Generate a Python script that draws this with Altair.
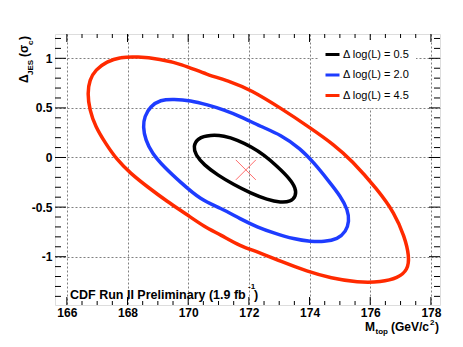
import altair as alt
import pandas as pd
import numpy as np

FONT = "Liberation Sans"

# ---- data ----
levels = ["\u0394 log(L) = 0.5", "\u0394 log(L) = 2.0", "\u0394 log(L) = 4.5"]
level_colors = ["#000000", "#1e3cff", "#ff2a00"]

black_x = [170.17, 170.30, 170.74, 171.18, 171.62, 172.06, 172.50, 172.94, 173.33, 173.55,
           173.55, 173.38, 173.05, 172.61, 172.06, 171.51, 170.96, 170.52, 170.24]
black_y = [0.110, 0.196, 0.229, 0.219, 0.178, 0.111, 0.027, -0.091, -0.208, -0.308,
           -0.393, -0.444, -0.454, -0.426, -0.359, -0.275, -0.175, -0.074, 0.027]

blue_x = [168.75, 169.08, 169.52, 170.08, 170.63, 171.18, 171.73, 172.39, 173.05, 173.71,
          174.15, 174.60, 175.03, 175.26, 175.31, 175.20, 174.93, 174.48, 174.04, 173.49,
          172.83, 172.28, 171.73, 171.07, 170.41, 169.75, 169.19, 168.81, 168.59, 168.51,
          168.56]
blue_y = [0.514, 0.582, 0.589, 0.575, 0.531, 0.481, 0.413, 0.3125, 0.229, 0.088,
          -0.056, -0.225, -0.393, -0.527, -0.645, -0.746, -0.823, -0.850, -0.847, -0.823,
          -0.762, -0.702, -0.621, -0.510, -0.426, -0.250, -0.091, 0.044, 0.178, 0.3125,
          0.413]

red_x = [167.32, 167.76, 168.31, 169.08, 169.75, 170.63, 171.40, 172.06, 173.05, 174.04,
         174.81, 175.37, 176.25, 176.80, 177.13, 177.29, 177.24, 176.91, 176.36, 175.59,
         174.70, 173.93, 173.05, 172.28, 171.73, 171.07, 170.52, 169.97, 169.31, 168.64,
         168.09, 167.65, 167.27, 166.94, 166.75, 166.68, 166.75, 166.94]
red_y = [0.968, 1.012, 1.018, 0.992, 0.945, 0.834, 0.766, 0.682, 0.498, 0.296,
         0.128, -0.023, -0.326, -0.560, -0.796, -0.998, -1.132, -1.216, -1.256, -1.260,
         -1.216, -1.149, -1.048, -0.948, -0.897, -0.779, -0.696, -0.578, -0.444, -0.292,
         -0.157, -0.023, 0.145, 0.3125, 0.481, 0.649, 0.783, 0.884]

best_m = [171.9]
best_d = [-0.125]

x_major = [166, 168, 170, 172, 174, 176, 178]
y_major = [-1, -0.5, 0, 0.5, 1]
x_minor = [round(v, 2) for v in np.arange(166.0, 178.01, 0.5) if v not in x_major]
y_minor = [round(v, 2) for v in np.arange(-1.4, 1.21, 0.1) if round(v, 2) not in y_major]

# ---- layout ----
W, H = 385, 271
xs = alt.Scale(domain=[165.61, 178.3], nice=False, zero=False)
ys = alt.Scale(domain=[-1.487, 1.245], nice=False, zero=False)

rows = []
for lev, xx, yy in zip(levels, [black_x, blue_x, red_x], [black_y, blue_y, red_y]):
    for i, (a, b) in enumerate(zip(xx, yy)):
        rows.append({"level": lev, "i": i, "m": a, "d": b})
df = pd.DataFrame(rows)

axis_common = dict(
    grid=True, gridColor="#808080", gridDash=[2, 2], gridWidth=1,
    ticks=False, domain=False, title=None,
    labelFont=FONT, labelFontSize=12, labelFontWeight="bold", labelColor="black",
    labelExpr="datum.value + ''", labelFlush=False, labelOverlap=False,
)
AX = alt.Axis(values=x_major, labelPadding=2, **axis_common)
AY = alt.Axis(values=y_major, labelPadding=3, **axis_common)

contours = alt.Chart(df).mark_line(interpolate="basis-closed", strokeWidth=3.5).encode(
    x=alt.X("m:Q", scale=xs, axis=AX),
    y=alt.Y("d:Q", scale=ys, axis=AY),
    color=alt.Color(
        "level:N",
        scale=alt.Scale(domain=levels, range=level_colors),
        legend=alt.Legend(
            orient="none", legendX=263, legendY=6, direction="vertical", title=None,
            fillColor="white", padding=6, symbolType="stroke", symbolSize=196,
            symbolStrokeWidth=3, labelFont=FONT, labelFontSize=11, labelColor="black",
            rowPadding=5.5, labelOffset=2,
        ),
    ),
    order=alt.Order("i:Q"),
)

marker = alt.Chart(pd.DataFrame({"m": best_m, "d": best_d})).mark_point(
    shape="M-1,-1L1,1M-1,1L1,-1", size=400, filled=False, color="#ff3030", strokeWidth=1
).encode(x=alt.X("m:Q", scale=xs, axis=AX), y=alt.Y("d:Q", scale=ys, axis=AY))


def xticks(vals, length, top):
    d = pd.DataFrame({"m": vals})
    if top:
        yy, yy2 = alt.value(0), alt.value(length)
    else:
        yy, yy2 = alt.value(H), alt.value(H - length)
    return alt.Chart(d).mark_rule(color="black", strokeWidth=1).encode(
        x=alt.X("m:Q", scale=xs, axis=AX), y=yy, y2=yy2)


def yticks(vals, length, right):
    d = pd.DataFrame({"d": vals})
    if right:
        xx, xx2 = alt.value(W), alt.value(W - length)
    else:
        xx, xx2 = alt.value(0), alt.value(length)
    return alt.Chart(d).mark_rule(color="black", strokeWidth=1).encode(
        y=alt.Y("d:Q", scale=ys, axis=AY), x=xx, x2=xx2)


ticks = [
    xticks(x_major, 8, False), xticks(x_minor, 4, False),
    xticks(x_major, 8, True), xticks(x_minor, 4, True),
    yticks(y_major, 11, False), yticks(y_minor, 6, False),
    yticks(y_major, 11, True), yticks(y_minor, 6, True),
]


def txt(s, x, y, size, angle=0, weight="bold"):
    return alt.Chart(pd.DataFrame({"t": [s]})).mark_text(
        align="left", baseline="alphabetic", font=FONT, fontSize=size,
        fontWeight=weight, angle=angle, color="black"
    ).encode(text="t:N", x=alt.value(x), y=alt.value(y))


texts = [
    # x-axis title  M_top (GeV/c^2)
    txt("M", 310, 297, 12),
    txt("top", 320.5, 300, 8),
    txt("(GeV/c", 336, 297, 12),
    txt("2", 375, 291, 8),
    txt(")", 380, 297, 12),
    # y-axis title  Delta_JES (sigma_c)
    txt("\u0394", -27, 49, 12, angle=270),
    txt("JES", -22, 41, 8, angle=270),
    txt("(\u03c3", -27, 23, 12, angle=270),
    txt("c", -22, 11, 8, angle=270),
    txt(")", -27, 6, 12, angle=270),
    # label
    txt("CDF Run II Preliminary (1.9 fb", 15, 265, 12.5),
    txt("-1", 193, 255, 8),
    txt(")", 199, 265, 12.5),
]

chart = alt.layer(contours, marker, *ticks, *texts).properties(
    width=W, height=H,
    autosize=alt.AutoSizeParams(type="none"),
    padding={"left": 47, "top": 26, "right": 15, "bottom": 34},
).configure_view(stroke="black", strokeWidth=1.5).configure(background="white")

chart.save("out.html", embed_options={"renderer": "svg", "actions": False})
